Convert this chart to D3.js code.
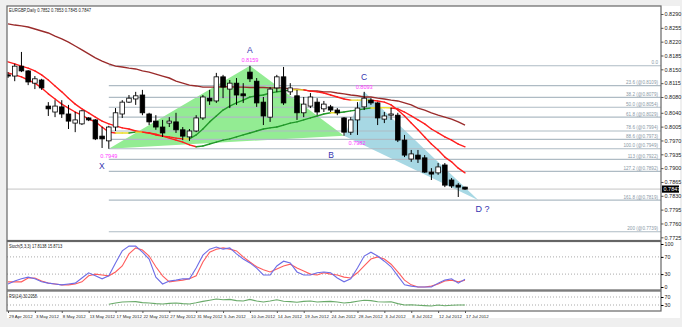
<!DOCTYPE html>
<html>
<head>
<meta charset="utf-8">
<script src="https://cdn.jsdelivr.net/npm/d3@7"></script>
<style>
    body { margin: 0; background: #efefef; }
    text { font-family: "Liberation Sans", Arial, sans-serif; }
</style>
</head>
<body>
<svg id="chart" width="682" height="327"></svg>
<script>
// date labels, one every 4 bars
const dateLabels = ["29 Apr 2012", "3 May 2012", "8 May 2012", "13 May 2012", "17 May 2012", "22 May 2012",
    "27 May 2012", "31 May 2012", "5 Jun 2012", "10 Jun 2012", "14 Jun 2012", "19 Jun 2012", "24 Jun 2012",
    "28 Jun 2012", "3 Jul 2012", "8 Jul 2012", "12 Jul 2012", "17 Jul 2012"];

// EURGBP daily candles
const opens = [0.8136, 0.8133, 0.8158, 0.8146, 0.8115, 0.8123, 0.8057, 0.8042, 0.8055, 0.8037,
    0.8014, 0.8012, 0.8027, 0.8022, 0.7981, 0.7969, 0.8004, 0.8037, 0.8067, 0.8075,
    0.8085, 0.8037, 0.8019, 0.8004, 0.8014, 0.8017, 0.7997, 0.7979, 0.7994, 0.8027,
    0.8077, 0.8070, 0.8131, 0.8100, 0.8115, 0.8088, 0.8143, 0.8120, 0.8067, 0.8029,
    0.8103, 0.8131, 0.8093, 0.8083, 0.8040, 0.8057, 0.8067, 0.8050, 0.8055, 0.8047,
    0.8027, 0.7991, 0.8022, 0.8055, 0.8072, 0.8065, 0.8024, 0.8034, 0.8034, 0.7971,
    0.7923, 0.7933, 0.7926, 0.7890, 0.7888, 0.7908, 0.7870, 0.7857, 0.7852];
const highs = [0.8143, 0.8164, 0.8194, 0.8148, 0.8133, 0.8126, 0.8067, 0.8072, 0.8072, 0.8060,
    0.8042, 0.8047, 0.8029, 0.8024, 0.8004, 0.8007, 0.8052, 0.8072, 0.8085, 0.8093,
    0.8098, 0.8040, 0.8034, 0.8022, 0.8029, 0.8040, 0.8004, 0.7999, 0.8034, 0.8085,
    0.8098, 0.8141, 0.8136, 0.8123, 0.8128, 0.8115, 0.8159, 0.8128, 0.8080, 0.8105,
    0.8136, 0.8156, 0.8115, 0.8098, 0.8080, 0.8090, 0.8077, 0.8070, 0.8060, 0.8052,
    0.8029, 0.8029, 0.8067, 0.8093, 0.8077, 0.8067, 0.8042, 0.8052, 0.8040, 0.7984,
    0.7946, 0.7946, 0.7933, 0.7900, 0.7913, 0.7913, 0.7875, 0.7862, 0.7853];
const lows = [0.8128, 0.8120, 0.8143, 0.8110, 0.8100, 0.8098, 0.8032, 0.8029, 0.8027, 0.7999,
    0.7991, 0.8009, 0.8019, 0.7971, 0.7951, 0.7949, 0.7994, 0.8027, 0.8065, 0.8060,
    0.8034, 0.8009, 0.7997, 0.7979, 0.8004, 0.7989, 0.7971, 0.7969, 0.7991, 0.8022,
    0.8060, 0.8065, 0.8077, 0.8052, 0.8060, 0.8065, 0.8118, 0.8055, 0.8009, 0.8017,
    0.8093, 0.8060, 0.8085, 0.8022, 0.8029, 0.8052, 0.8034, 0.8042, 0.8042, 0.8034,
    0.7982, 0.7984, 0.7984, 0.8047, 0.8060, 0.8009, 0.8014, 0.8022, 0.7966, 0.7928,
    0.7916, 0.7913, 0.7888, 0.7870, 0.7883, 0.7852, 0.7850, 0.7827, 0.7845];
const closes = [0.8133, 0.8158, 0.8146, 0.8118, 0.8126, 0.8103, 0.8050, 0.8057, 0.8037, 0.8019,
    0.8022, 0.8045, 0.8022, 0.7974, 0.7974, 0.8004, 0.8040, 0.8067, 0.8077, 0.8083,
    0.8040, 0.8017, 0.8004, 0.7989, 0.8019, 0.7997, 0.7981, 0.7994, 0.8027, 0.8080,
    0.8070, 0.8131, 0.8105, 0.8115, 0.8085, 0.8083, 0.8126, 0.8065, 0.8032, 0.8100,
    0.8131, 0.8065, 0.8103, 0.8040, 0.8062, 0.8080, 0.8042, 0.8062, 0.8047, 0.8040,
    0.7991, 0.8022, 0.8052, 0.8077, 0.8065, 0.8027, 0.8032, 0.8037, 0.7971, 0.7933,
    0.7936, 0.7923, 0.7890, 0.7885, 0.7903, 0.7857, 0.7855, 0.7852, 0.7847];

// moving averages
const maLong = [0.8265, 0.8262, 0.8260, 0.8257, 0.8252, 0.8247, 0.8242, 0.8234, 0.8227, 0.8219,
    0.8209, 0.8199, 0.8189, 0.8179, 0.8171, 0.8164, 0.8158, 0.8156, 0.8153, 0.8151,
    0.8146, 0.8143, 0.8138, 0.8133, 0.8128, 0.8120, 0.8115, 0.8110, 0.8108, 0.8105,
    0.8105, 0.8105, 0.8106, 0.8106, 0.8105, 0.8105, 0.8104, 0.8104, 0.8104, 0.8103,
    0.8103, 0.8103, 0.8100, 0.8100, 0.8098, 0.8095, 0.8095, 0.8093, 0.8093, 0.8090,
    0.8088, 0.8085, 0.8083, 0.8080, 0.8080, 0.8077, 0.8075, 0.8072, 0.8070, 0.8065,
    0.8060, 0.8052, 0.8047, 0.8040, 0.8034, 0.8029, 0.8024, 0.8017, 0.8009];
const maFast = [0.8141, 0.8136, 0.8131, 0.8123, 0.8115, 0.8103, 0.8088, 0.8075, 0.8062, 0.8052,
    0.8042, 0.8034, 0.8024, 0.8017, 0.8004, 0.7991, 0.7989, 0.7989, 0.7989, 0.7991,
    0.7991, 0.7989, 0.7986, 0.7981, 0.7979, 0.7976, 0.7974, 0.7974, 0.7984, 0.7999,
    0.8017, 0.8032, 0.8047, 0.8057, 0.8065, 0.8072, 0.8080, 0.8083, 0.8085, 0.8090,
    0.8093, 0.8095, 0.8098, 0.8098, 0.8098, 0.8095, 0.8093, 0.8090, 0.8085, 0.8080,
    0.8075, 0.8072, 0.8072, 0.8072, 0.8072, 0.8070, 0.8067, 0.8060, 0.8047, 0.8032,
    0.8014, 0.7997, 0.7979, 0.7961, 0.7946, 0.7928, 0.7916, 0.7900, 0.7888];
const maSlow = [0.8169, 0.8164, 0.8158, 0.8153, 0.8146, 0.8136, 0.8123, 0.8108, 0.8093, 0.8077,
    0.8062, 0.8050, 0.8040, 0.8029, 0.8019, 0.8012, 0.8007, 0.8002, 0.7999, 0.7994,
    0.7991, 0.7989, 0.7984, 0.7981, 0.7976, 0.7971, 0.7966, 0.7959, 0.7954, 0.7956,
    0.7961, 0.7966, 0.7971, 0.7974, 0.7979, 0.7984, 0.7989, 0.7994, 0.7999, 0.8002,
    0.8004, 0.8009, 0.8014, 0.8017, 0.8022, 0.8027, 0.8032, 0.8037, 0.8040, 0.8040,
    0.8042, 0.8045, 0.8047, 0.8050, 0.8052, 0.8052, 0.8053, 0.8052, 0.8050, 0.8042,
    0.8032, 0.8022, 0.8012, 0.7999, 0.7989, 0.7979, 0.7971, 0.7961, 0.7954];

// stochastic (5,3,3)
const stochMain = [7, 14, 19, 23, 19, 12, 9, 7, 5, 7, 9, 21, 33, 26, 19, 26, 56, 84, 95, 95,
    81, 65, 23, 7, 14, 16, 19, 19, 44, 74, 88, 93, 88, 91, 77, 65, 56, 44, 28, 28,
    49, 60, 56, 35, 28, 28, 33, 35, 33, 21, 12, 19, 44, 72, 81, 72, 60, 47, 26, 5,
    2, 0, 0, 0, 9, 16, 19, 9, 17.81];
const stochSignal = [12, 12, 12, 21, 21, 14, 9, 7, 5, 5, 7, 12, 26, 30, 28, 26, 35, 49, 77, 91,
    86, 72, 47, 26, 12, 14, 16, 19, 26, 58, 81, 88, 91, 88, 84, 70, 58, 47, 40, 35,
    42, 49, 53, 44, 37, 30, 28, 33, 30, 28, 23, 21, 33, 49, 65, 70, 65, 53, 35, 16,
    5, 0, 0, 2, 7, 14, 16, 12, 15.87];

// rsi(14), first value at bar 15
const rsiStart = 15;
const rsiValues = [33.5, 40, 45, 46, 47, 42, 40, 37, 35, 38, 40, 37, 35, 41, 48, 54, 60, 56, 58, 52,
    50, 58, 50, 45, 50, 56, 49, 47, 44, 48, 50, 45, 47, 48, 45, 40, 43, 49, 54, 52,
    46, 45, 46, 37, 30, 31, 29, 27, 25, 30, 26, 29, 30, 30.2];

// price axis ticks
const priceTicks = [0.8290, 0.8255, 0.8220, 0.8185, 0.8150, 0.8115, 0.8080, 0.8040, 0.8005,
    0.7970, 0.7935, 0.7900, 0.7865, 0.7830, 0.7795, 0.7760, 0.7725];

// fibonacci levels
const fibPrices = [0.8159, 0.8109, 0.8079, 0.8054, 0.8029, 0.7994, 0.7973, 0.7949, 0.7922, 0.7892, 0.7819, 0.7739];
const fibLabels = ["0.0", "23.6 (@0.8109)", "38.2 (@0.8079)", "50.0 (@0.8054)", "61.8 (@0.8029)",
    "78.6 (@0.7994)", "88.6 (@0.7973)", "100.0 (@0.7949)", "113 (@0.7922)", "127.2 (@0.7892)",
    "161.8 (@0.7819)", "200 (@0.7739)"];

// harmonic pattern points
const patternNames = ["X", "A", "B", "C", "D ?"];
const patternBars = [15, 36, 50, 53, 70];
const patternPrices = [0.7949, 0.8159, 0.7982, 0.8093, 0.7819];

const lastPrice = 0.7847;

drawChart();

// squeeze small texts to the narrow terminal font width
function squeeze(sel, perChar) {
    sel.each(function () {
        const t = d3.select(this);
        t.attr("textLength", t.text().length * perChar).attr("lengthAdjust", "spacingAndGlyphs");
    });
}

function drawChart() {
    const svg = d3.select("#chart");
    const left = 7, right = 661;
    const mainTop = 6, mainBottom = 240.5;
    const stochTop = 241.5, stochBottom = 290;
    const rsiTop = 291, rsiBottom = 311;

    // white work area
    svg.append("rect").attr("x", left).attr("y", 6).attr("width", 673).attr("height", 312).attr("fill", "#fff");

    var x = d3.scaleLinear().domain([0, 68]).range([8, 465]);
    var y = d3.scaleLinear().domain([0.7725, 0.8290]).range([237.3, 14]);
    var yS = d3.scaleLinear().domain([0, 100]).range([287, 244]);
    var yR = d3.scaleLinear().domain([0, 100]).range([rsiBottom, rsiTop]);

    const defs = svg.append("defs");
    defs.append("clipPath").attr("id", "clipMain").append("rect")
        .attr("x", left).attr("y", mainTop).attr("width", right - left).attr("height", mainBottom - mainTop);
    defs.append("clipPath").attr("id", "clipStoch").append("rect")
        .attr("x", left).attr("y", stochTop).attr("width", right - left).attr("height", stochBottom - stochTop);

    const main = svg.append("g").attr("clip-path", "url(#clipMain)");

    // pattern triangles
    const pts = patternBars.map((b, i) => [x(b), y(patternPrices[i])]);
    main.append("polygon").attr("points", [pts[0], pts[1], pts[2]].join(" ")).attr("fill", "#93ec93");
    main.append("polygon").attr("points", [pts[2], pts[3], pts[4]].join(" ")).attr("fill", "#a7d8e4");

    // fibonacci lines
    fibPrices.forEach((p, i) => {
        main.append("line").attr("x1", x(patternBars[0])).attr("x2", right)
            .attr("y1", y(p)).attr("y2", y(p))
            .attr("stroke", "#aebbc4").attr("stroke-width", 1.2);
        svg.append("text").attr("x", right - 3).attr("y", y(p) - 1.6)
            .attr("text-anchor", "end").attr("font-size", 4.6).attr("fill", "#8a98a6")
            .text(fibLabels[i]);
    });

    // bid line
    main.append("line").attr("x1", left).attr("x2", right).attr("y1", y(lastPrice)).attr("y2", y(lastPrice))
        .attr("stroke", "#c4c4c4").attr("stroke-width", 1);

    // long ma
    main.append("path").datum(maLong)
        .attr("fill", "none").attr("stroke", "#9a2b2b").attr("stroke-width", 1.4)
        .attr("d", d3.line().x((d, i) => x(i)).y(d => y(d)));

    // slope coloured ma
    drawSlopeLine(main, maSlow, x, y);
    drawSlopeLine(main, maFast, x, y);

    // candles
    const bw = 4.6;
    const candles = main.selectAll(".candle").data(opens).enter().append("g").attr("class", "candle");
    candles.append("line")
        .attr("x1", (d, i) => x(i)).attr("x2", (d, i) => x(i))
        .attr("y1", (d, i) => y(highs[i])).attr("y2", (d, i) => y(lows[i]))
        .attr("stroke", "#000").attr("stroke-width", 1);
    candles.append("rect")
        .attr("x", (d, i) => x(i) - bw / 2)
        .attr("y", (d, i) => y(Math.max(d, closes[i])))
        .attr("width", bw)
        .attr("height", (d, i) => Math.max(1, Math.abs(y(d) - y(closes[i]))))
        .attr("fill", (d, i) => closes[i] >= d ? "#fff" : "#000")
        .attr("stroke", "#000").attr("stroke-width", 0.8);

    // pattern labels
    const nameOffsets = [[-7, 20], [0, -13], [-13, 22], [0, -12], [4, 12]];
    const priceOffsets = [[0, 9], [0, -4], [13, 9], [0, -2.5], null];
    patternNames.forEach((n, i) => {
        svg.append("text").attr("x", pts[i][0] + nameOffsets[i][0]).attr("y", pts[i][1] + nameOffsets[i][1])
            .attr("text-anchor", "middle").attr("font-size", i === 4 ? 9 : 8.5).attr("fill", "#3333b0")
            .text(n);
        if (priceOffsets[i]) {
            svg.append("text").attr("x", pts[i][0] + priceOffsets[i][0]).attr("y", pts[i][1] + priceOffsets[i][1])
                .attr("text-anchor", "middle").attr("font-size", 5.6).attr("fill", "#ff3cff")
                .text(d3.format(".4f")(patternPrices[i]));
        }
    });

    // title
    svg.append("text").attr("x", 9).attr("y", 11.5).attr("font-size", 5.5).attr("fill", "#222")
        .text("EURGBP,Daily  0.7852 0.7853 0.7845 0.7847")
        .call(squeeze, 2.0);

    // stochastic panel
    const stoch = svg.append("g").attr("clip-path", "url(#clipStoch)");
    [70, 30].forEach(v => {
        stoch.append("line").attr("x1", left).attr("x2", right).attr("y1", yS(v)).attr("y2", yS(v))
            .attr("stroke", "#aaa").attr("stroke-dasharray", "1,2");
    });
    stoch.append("path").datum(stochSignal)
        .attr("fill", "none").attr("stroke", "#ff5c5c").attr("stroke-width", 1.1)
        .attr("d", d3.line().x((d, i) => x(i)).y(d => yS(d)));
    stoch.append("path").datum(stochMain)
        .attr("fill", "none").attr("stroke", "#6d6de6").attr("stroke-width", 1.1)
        .attr("d", d3.line().x((d, i) => x(i)).y(d => yS(d)));
    svg.append("text").attr("x", 9).attr("y", 248).attr("font-size", 5.3).attr("fill", "#222")
        .text("Stoch(5,3,3) 17.8138 15.8713")
        .call(squeeze, 1.9);

    // rsi panel
    [70, 30].forEach(v => {
        svg.append("line").attr("x1", left).attr("x2", right).attr("y1", yR(v)).attr("y2", yR(v))
            .attr("stroke", "#aaa").attr("stroke-dasharray", "1,2");
    });
    svg.append("path").datum(rsiValues)
        .attr("fill", "none").attr("stroke", "#6aaa6a").attr("stroke-width", 1.1)
        .attr("d", d3.line().x((d, i) => x(i + rsiStart)).y(d => yR(d)));
    svg.append("text").attr("x", 9).attr("y", 297.5).attr("font-size", 5.3).attr("fill", "#222")
        .text("RSI(14) 30.2058")
        .call(squeeze, 1.85);

    // panel borders
    [[mainTop, mainBottom], [stochTop, stochBottom], [rsiTop, rsiBottom]].forEach(p => {
        svg.append("rect").attr("x", left).attr("y", p[0]).attr("width", right - left).attr("height", p[1] - p[0])
            .attr("fill", "none").attr("stroke", "#666").attr("stroke-width", 1.2);
    });

    // price axis
    const axisG = svg.append("g").attr("transform", "translate(" + right + ",0)");
    axisG.call(d3.axisRight(y).tickValues(priceTicks).tickSize(2.5).tickFormat(d3.format(".4f")));
    axisG.select(".domain").remove();
    axisG.selectAll("text").attr("font-size", 5.5).attr("fill", "#222").attr("x", 3.5)
        .style("font-family", "'Liberation Sans', Arial, sans-serif");
    axisG.selectAll("line").attr("stroke", "#555");

    // last price box
    svg.append("rect").attr("x", right + 1).attr("y", y(lastPrice) - 3.6).attr("width", 17).attr("height", 7.2).attr("fill", "#000");
    svg.append("text").attr("x", right + 2.5).attr("y", y(lastPrice) + 2).attr("font-size", 5.5).attr("fill", "#fff")
        .text(d3.format(".4f")(lastPrice));

    // stochastic axis
    const stochAxis = svg.append("g").attr("transform", "translate(" + right + ",0)");
    stochAxis.call(d3.axisRight(yS).tickValues([100, 70, 30, 0]).tickSize(2.5));
    stochAxis.select(".domain").remove();
    stochAxis.selectAll("text").attr("font-size", 5.3).attr("fill", "#222").attr("x", 3.5)
        .style("font-family", "'Liberation Sans', Arial, sans-serif");

    // rsi axis
    const rsiAxis = svg.append("g").attr("transform", "translate(" + right + ",0)");
    rsiAxis.call(d3.axisRight(yR).tickValues([70, 30]).tickSize(2.5));
    rsiAxis.select(".domain").remove();
    rsiAxis.selectAll("text").attr("font-size", 5.3).attr("fill", "#222").attr("x", 3.5)
        .style("font-family", "'Liberation Sans', Arial, sans-serif");

    // time axis
    const timeAxis = svg.append("g").attr("transform", "translate(0," + rsiBottom + ")");
    timeAxis.call(d3.axisBottom(x).tickValues(dateLabels.map((d, i) => i * 4)).tickSize(2)
        .tickFormat((d, i) => dateLabels[i]));
    timeAxis.select(".domain").remove();
    timeAxis.selectAll("text").attr("font-size", 4.4).attr("fill", "#222")
        .attr("text-anchor", "start").attr("x", 0.5).attr("y", 3.5)
        .style("font-family", "'Liberation Sans', Arial, sans-serif");
    timeAxis.selectAll("line").attr("stroke", "#555");
}

function drawSlopeLine(g, values, x, y) {
    //colour every step by its direction: up green, down red, flat yellow
    for (let i = 0; i < values.length - 1; i++) {
        const diff = values[i + 1] - values[i];
        const colour = diff > 0.00015 ? "#22992a" : (diff < -0.00015 ? "#ff1e1e" : "#ecdc2a");
        g.append("line")
            .attr("x1", x(i)).attr("y1", y(values[i]))
            .attr("x2", x(i + 1)).attr("y2", y(values[i + 1]))
            .attr("stroke", colour).attr("stroke-width", 1.4).attr("stroke-linecap", "round");
    }
}
</script>
</body>
</html>
